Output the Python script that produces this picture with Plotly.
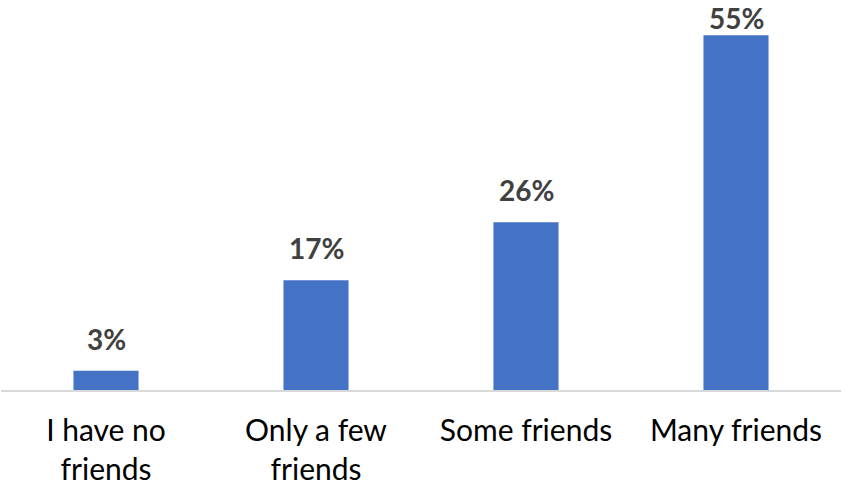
import plotly.graph_objects as go

categories = ["I have no<br>friends", "Only a few<br>friends", "Some friends", "Many friends"]
values = [3, 17, 26, 55]
labels = ["3%", "17%", "26%", "55%"]

fig = go.Figure(go.Bar(
    x=categories, y=values,
    marker=dict(color="#4472C4", line=dict(width=0)),
    width=0.31, cliponaxis=False, hoverinfo="skip",
))
top = max(values)
lab_font = dict(family="Lato", size=28, color="#404040", weight="bold")
for c, v, t in zip(categories, values, labels):
    if v == top:
        # the tallest label is squeezed against the top edge of the chart, as in the original
        fig.add_annotation(x=c, y=1, yref="paper", text=t, showarrow=False,
                           yanchor="top", yshift=3, borderpad=0, font=lab_font)
    else:
        fig.add_annotation(x=c, y=v, text=t, showarrow=False, yanchor="bottom",
                           yshift=13, font=lab_font)
fig.update_layout(
    width=847, height=486,
    margin=dict(l=1, r=6, t=3, b=96, autoexpand=False),
    plot_bgcolor="white", paper_bgcolor="white",
    showlegend=False,
    font=dict(family="Lato", size=30, color="#000000"),
)
fig.update_xaxes(showline=True, linecolor="#D9D9D9", linewidth=1.5, ticks="",
                 automargin=False, ticklabelstandoff=13,
                 tickfont=dict(size=30, color="#000000"), showgrid=False)
fig.update_yaxes(range=[0, 60], visible=False, showgrid=False, automargin=False)
fig.write_html("out.html", config={"displayModeBar": False},
               post_script="document.body.style.margin='0';")
